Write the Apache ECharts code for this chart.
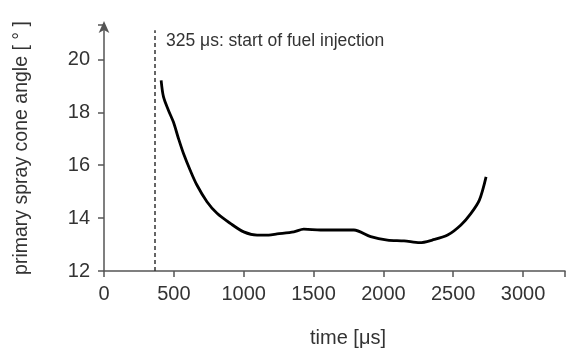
<!DOCTYPE html>
<html><head><meta charset="utf-8">
<script src="https://cdn.jsdelivr.net/npm/echarts@6/dist/echarts.min.js"></script>
<style>html,body{margin:0;padding:0;background:#fff}#c{width:566px;height:352px}</style>
</head><body><div id="c"></div>
<script>
const timeUs = [409, 426, 461, 497, 533, 569, 617, 665, 737, 809, 904, 1000, 1096, 1179, 1239, 1359, 1430, 1550, 1670, 1789, 1909, 2029, 2148, 2260, 2350, 2460, 2555, 2627, 2687, 2735];
const coneAngle = [19.21, 18.58, 18.08, 17.63, 17.01, 16.44, 15.81, 15.25, 14.62, 14.18, 13.8, 13.48, 13.36, 13.36, 13.4, 13.48, 13.58, 13.55, 13.55, 13.55, 13.3, 13.17, 13.14, 13.07, 13.17, 13.36, 13.74, 14.18, 14.68, 15.56];
const injectionStart = 365;
const annotation = '325 μs: start of fuel injection';
const xTicks = [0, 500, 1000, 1500, 2000, 2500, 3000];
const yTicks = [12, 14, 16, 18, 20];

const font = 'Liberation Sans, Arial, sans-serif';
const chart = echarts.init(document.getElementById('c'), null, {renderer: 'canvas'});
chart.setOption({
  animation: false,
  backgroundColor: '#fff',
  grid: {left: 104, right: 1, top: 25, bottom: 81, containLabel: false, outerBoundsMode: 'none'},
  xAxis: {
    type: 'value', min: 0, max: 3300, interval: 500,
    name: 'time [μs]', nameLocation: 'middle', nameGap: 57,
    nameTextStyle: {fontFamily: font, fontSize: 20, color: '#333', padding: [0, 0, 0, 27]},
    axisLine: {lineStyle: {color: '#555', width: 1.5}},
    axisTick: {show: true, length: 6, lineStyle: {color: '#555', width: 1.5}},
    axisLabel: {fontFamily: font, fontSize: 20, color: '#333', margin: 13,
      formatter: v => xTicks.includes(v) ? String(v) : ''},
    splitLine: {show: false}
  },
  yAxis: {
    type: 'value', min: 12, max: 21.3, interval: 2,
    name: 'primary spray cone angle [ ° ]', nameLocation: 'middle', nameGap: 60,
    nameTextStyle: {fontFamily: font, fontSize: 19.5, color: '#333', padding: [0, 0, 12, 0]},
    axisLine: {show: true, symbol: ['none', 'arrow'], symbolSize: [8, 12], symbolOffset: [0, 4],
      lineStyle: {color: '#555', width: 1.5}},
    axisTick: {show: true, length: 6, lineStyle: {color: '#555', width: 1.5}},
    axisLabel: {fontFamily: font, fontSize: 20, color: '#333', margin: 14,
      formatter: v => yTicks.includes(v) ? String(v) : ''},
    splitLine: {show: false}
  },
  series: [{
    type: 'line', smooth: 0.3, symbol: 'none',
    data: timeUs.map((t, i) => [t, coneAngle[i]]),
    lineStyle: {color: '#000', width: 2.8},
    markLine: {
      silent: true, symbol: ['none', 'none'],
      lineStyle: {type: [4, 3], color: '#333', width: 1.5},
      label: {show: false},
      data: [[{coord: [injectionStart, 12]}, {coord: [injectionStart, 21.1]}]]
    }
  }],
  graphic: [{
    type: 'text', left: 166, top: 32,
    style: {text: annotation, fontFamily: font, fontSize: 17.5, fill: '#333'}
  }]
});
</script></body></html>
